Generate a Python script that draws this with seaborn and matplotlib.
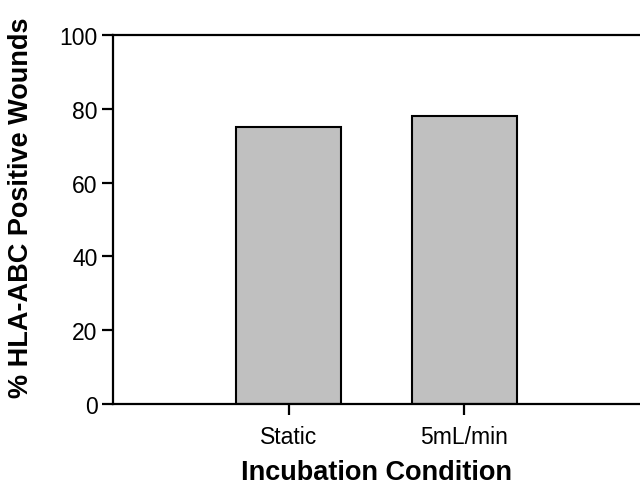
import matplotlib
matplotlib.use("Agg")
import matplotlib.pyplot as plt
import seaborn as sns
import pandas as pd

categories = ["Static", "5mL/min"]
values = [75, 78]
yticks = [0, 20, 40, 60, 80, 100]

sns.set_style("ticks")
plt.rcParams['font.family'] = ['Liberation Sans', 'DejaVu Sans']
plt.rcParams['text.color'] = 'black'
plt.rcParams['axes.labelcolor'] = 'black'

df = pd.DataFrame({"cond": categories, "pct": values})

fig = plt.figure(figsize=(6.4, 4.85), dpi=100)
ax = fig.add_axes([0.1766, 0.165, 0.8234, 0.7608])
sns.barplot(data=df, x="cond", y="pct", ax=ax, color="#c0c0c0",
            edgecolor="black", linewidth=1.5, width=0.6, saturation=1)
ax.set_xlim(-1, 2)
ax.set_ylim(0, 100)
ax.set_yticks(yticks)
ax.set_yticklabels([str(t) for t in yticks])
for s in ["left", "bottom", "top"]:
    ax.spines[s].set_linewidth(1.6)
    ax.spines[s].set_color("black")
ax.spines["right"].set_visible(False)
ax.tick_params(axis="both", length=8, width=1.6, labelsize=16.5, colors="black")
ax.tick_params(axis="y", pad=3)
ax.tick_params(axis="x", pad=7)
ax.set_xlabel("Incubation Condition", fontsize=19.5, fontweight="bold", labelpad=8, color="black")
ax.set_ylabel("% HLA-ABC Positive Wounds", fontsize=19.5, fontweight="bold", color="black")
ax.yaxis.set_label_coords(-0.150, 0.534)
fig.savefig("out.png", dpi=100)
